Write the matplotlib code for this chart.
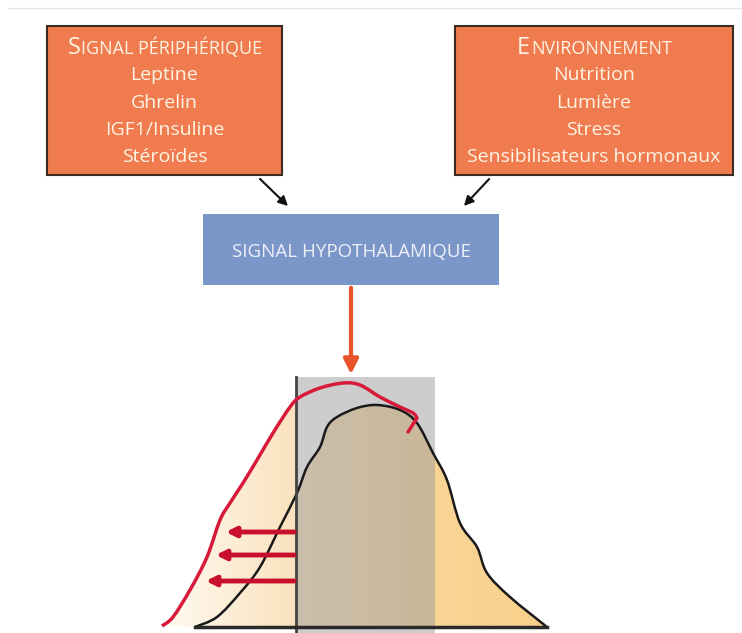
import numpy as np
import matplotlib
matplotlib.use("Agg")
from matplotlib import pyplot as plt
from matplotlib.patches import Rectangle, PathPatch
from matplotlib.path import Path

plt.rcParams['font.family'] = ['Open Sans', 'DejaVu Sans']

# box texts
left_title = ("S", "IGNAL PÉRIPHÉRIQUE")
left_items = ["Leptine", "Ghrelin", "IGF1/Insuline", "Stéroïdes"]
right_title = ("E", "NVIRONNEMENT")
right_items = ["Nutrition", "Lumière", "Stress", "Sensibilisateurs hormonaux"]
center_label = "SIGNAL HYPOTHALAMIQUE"

# distribution curves (picture coordinates, y downwards)
black_x = [195, 217, 240, 260, 280, 297, 307, 320, 327, 337, 357, 377, 400, 417,
           433, 447, 460, 477, 487, 510, 547]
black_y = [627, 617, 593, 567, 527, 493, 467, 447, 427, 417, 408, 405, 410, 423,
           453, 480, 523, 547, 573, 597, 627]
red_x = [162, 173, 190, 207, 220, 230, 243, 257, 273, 290, 300, 320, 343, 360,
         380, 400, 413, 417, 408]
red_y = [626, 617, 590, 557, 520, 503, 483, 460, 433, 407, 397, 388, 383, 385,
         397, 407, 413, 418, 432]
shift_y = [532, 555, 581]
shift_tip = [223, 213, 203]

ORANGE = '#ef7b4f'
CREAM = '#fff4e4'
W, H = 742, 633

fig = plt.figure(figsize=(W / 100, H / 100), dpi=100)
ax = fig.add_axes([0, 0, 1, 1])
ax.set_xlim(0, W)
ax.set_ylim(H, 0)
ax.axis('off')

ax.plot([8, W], [8, 8], color='#e6e6e6', lw=1)

renderer = fig.canvas.get_renderer()


def smooth_path(xs, ys, close_to=None):
    # catmull-rom through the read points, drawn as bezier segments
    p = np.column_stack([xs, ys]).astype(float)
    verts = [p[0]]
    codes = [Path.MOVETO]
    for i in range(len(p) - 1):
        p0 = p[i - 1] if i > 0 else p[i]
        p3 = p[i + 2] if i + 2 < len(p) else p[i + 1]
        c1 = p[i] + (p[i + 1] - p0) / 6
        c2 = p[i + 1] - (p3 - p[i]) / 6
        verts += [c1, c2, p[i + 1]]
        codes += [Path.CURVE4] * 3
    if close_to is not None:
        for q in close_to:
            verts.append(q)
            codes.append(Path.LINETO)
        verts.append(p[0])
        codes.append(Path.CLOSEPOLY)
    return Path(verts, codes)


def smallcaps(cx, cy, big, rest, big_size=17, small_size=13):
    # big first letter + smaller capitals, centred on cx
    t1 = ax.text(0, cy, big, fontsize=big_size, color=CREAM, va='baseline')
    t2 = ax.text(0, cy, rest, fontsize=small_size, color=CREAM, va='baseline')
    w1 = t1.get_window_extent(renderer).width
    w2 = t2.get_window_extent(renderer).width
    x0 = cx - (w1 + w2) / 2
    t1.set_x(x0)
    t2.set_x(x0 + w1 + 1)


def box(x0, x1, title, items):
    ax.add_patch(Rectangle((x0, 26), x1 - x0, 149, facecolor=ORANGE,
                           edgecolor='#3b2b22', lw=1.5, zorder=1))
    cx = (x0 + x1) / 2
    smallcaps(cx, 54, *title)
    for i, item in enumerate(items):
        ax.text(cx, 75 + 27.5 * i, item, fontsize=14, color=CREAM,
                ha='center', va='center')


box(47, 282, left_title, left_items)
box(455, 733, right_title, right_items)

ax.annotate('', xy=(290, 208), xytext=(258, 177),
            arrowprops=dict(arrowstyle='-|>', color='#111111', lw=1.5, mutation_scale=14))
ax.annotate('', xy=(462, 208), xytext=(491, 177),
            arrowprops=dict(arrowstyle='-|>', color='#111111', lw=1.5, mutation_scale=14))

ax.add_patch(Rectangle((203, 214), 296, 71, facecolor='#7b96c9', edgecolor='none'))
ax.text(351, 252, center_label, fontsize=13.5, color='#eef1f8', ha='center', va='center')

ax.annotate('', xy=(351, 377), xytext=(351, 285),
            arrowprops=dict(arrowstyle='-|>', color='#e8532a', lw=3, mutation_scale=22))

# gradient fill under the curves
grad = np.linspace(0, 1, 256)[None, :]
cmap = matplotlib.colors.LinearSegmentedColormap.from_list(
    'peach', ['#fffaf3', '#fbe3bf', '#f8d597', '#f8d08a'])
black_path = smooth_path(black_x, black_y, close_to=[(547, 627)])
im = ax.imshow(grad, cmap=cmap, extent=[160, 550, 628, 380], aspect='auto', zorder=1)
im.set_clip_path(PathPatch(black_path, transform=ax.transData))
n_left = sum(1 for x in red_x if x <= 300)
red_left = smooth_path(red_x[:n_left], red_y[:n_left],
                       close_to=[(296, 397), (296, 627)])
im2 = ax.imshow(grad, cmap=cmap, extent=[160, 550, 628, 380], aspect='auto', zorder=1)
im2.set_clip_path(PathPatch(red_left, transform=ax.transData))
ax.set_xlim(0, W)
ax.set_ylim(H, 0)

ax.add_patch(Rectangle((296, 377), 139, 256, facecolor='#9c9c9c', alpha=0.5,
                       edgecolor='none', zorder=2))
ax.add_patch(PathPatch(smooth_path(black_x, black_y), facecolor='none',
                       edgecolor='#1a1a1a', lw=1.8, zorder=3))
ax.plot([296, 296], [377, 633], color='#444444', lw=2, zorder=3)
ax.plot([195, 547], [627, 627], color='#2a2a2a', lw=2.5, zorder=3)
ax.add_patch(PathPatch(smooth_path(red_x[:-1], red_y[:-1]), facecolor='none',
                       edgecolor='#d7193a', lw=2.5, zorder=4))
ax.plot(red_x[-2:], red_y[-2:], color='#d7193a', lw=2.5, zorder=4,
        solid_capstyle='round')
for y, tip in zip(shift_y, shift_tip):
    ax.annotate('', xy=(tip, y), xytext=(297, y),
                arrowprops=dict(arrowstyle='-|>', color='#c8102e', lw=3.5,
                                mutation_scale=14), zorder=4)

fig.savefig('out.png', dpi=100)
